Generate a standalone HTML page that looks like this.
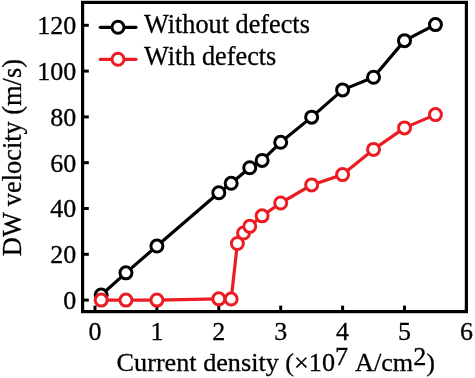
<!DOCTYPE html>
<html><head><meta charset="utf-8"><style>
html,body{margin:0;padding:0;background:#fff;width:475px;height:378px;overflow:hidden}
svg{display:block}
</style></head><body>
<svg width="475" height="378" viewBox="0 0 475 378">
<rect width="475" height="378" fill="#fff"/>
<line x1="95.00" y1="311.6" x2="95.00" y2="305.6" stroke="#000" stroke-width="3"/>
<line x1="156.90" y1="311.6" x2="156.90" y2="305.6" stroke="#000" stroke-width="3"/>
<line x1="218.80" y1="311.6" x2="218.80" y2="305.6" stroke="#000" stroke-width="3"/>
<line x1="280.70" y1="311.6" x2="280.70" y2="305.6" stroke="#000" stroke-width="3"/>
<line x1="342.60" y1="311.6" x2="342.60" y2="305.6" stroke="#000" stroke-width="3"/>
<line x1="404.50" y1="311.6" x2="404.50" y2="305.6" stroke="#000" stroke-width="3"/>
<line x1="466.40" y1="311.6" x2="466.40" y2="305.6" stroke="#000" stroke-width="3"/>
<line x1="82.6" y1="300.10" x2="88.8" y2="300.10" stroke="#000" stroke-width="3"/>
<line x1="82.6" y1="254.30" x2="88.8" y2="254.30" stroke="#000" stroke-width="3"/>
<line x1="82.6" y1="208.50" x2="88.8" y2="208.50" stroke="#000" stroke-width="3"/>
<line x1="82.6" y1="162.70" x2="88.8" y2="162.70" stroke="#000" stroke-width="3"/>
<line x1="82.6" y1="116.90" x2="88.8" y2="116.90" stroke="#000" stroke-width="3"/>
<line x1="82.6" y1="71.10" x2="88.8" y2="71.10" stroke="#000" stroke-width="3"/>
<line x1="82.6" y1="25.30" x2="88.8" y2="25.30" stroke="#000" stroke-width="3"/>

<polyline points="101.19,295.06 125.95,272.85 156.90,246.06 218.80,192.70 231.18,183.31 249.75,167.74 262.13,160.41 280.70,142.32 311.65,117.13 342.60,89.88 373.55,77.28 404.50,40.64 435.45,24.61" fill="none" stroke="#000" stroke-width="3.2" stroke-linejoin="round" stroke-linecap="round"/>
<circle cx="101.19" cy="295.06" r="6.0" fill="#fff" stroke="#000" stroke-width="3.0"/>
<circle cx="125.95" cy="272.85" r="6.0" fill="#fff" stroke="#000" stroke-width="3.0"/>
<circle cx="156.90" cy="246.06" r="6.0" fill="#fff" stroke="#000" stroke-width="3.0"/>
<circle cx="218.80" cy="192.70" r="6.0" fill="#fff" stroke="#000" stroke-width="3.0"/>
<circle cx="231.18" cy="183.31" r="6.0" fill="#fff" stroke="#000" stroke-width="3.0"/>
<circle cx="249.75" cy="167.74" r="6.0" fill="#fff" stroke="#000" stroke-width="3.0"/>
<circle cx="262.13" cy="160.41" r="6.0" fill="#fff" stroke="#000" stroke-width="3.0"/>
<circle cx="280.70" cy="142.32" r="6.0" fill="#fff" stroke="#000" stroke-width="3.0"/>
<circle cx="311.65" cy="117.13" r="6.0" fill="#fff" stroke="#000" stroke-width="3.0"/>
<circle cx="342.60" cy="89.88" r="6.0" fill="#fff" stroke="#000" stroke-width="3.0"/>
<circle cx="373.55" cy="77.28" r="6.0" fill="#fff" stroke="#000" stroke-width="3.0"/>
<circle cx="404.50" cy="40.64" r="6.0" fill="#fff" stroke="#000" stroke-width="3.0"/>
<circle cx="435.45" cy="24.61" r="6.0" fill="#fff" stroke="#000" stroke-width="3.0"/>

<polyline points="101.19,300.10 125.95,300.10 156.90,300.10 218.80,298.84 231.18,299.07 237.37,243.54 243.56,233.00 249.75,226.36 262.13,215.83 280.70,203.00 311.65,184.91 342.60,174.61 373.55,149.42 404.50,127.89 435.45,114.61" fill="none" stroke="#ec1c24" stroke-width="3.2" stroke-linejoin="round" stroke-linecap="round"/>
<circle cx="101.19" cy="300.10" r="6.0" fill="#fff" stroke="#ec1c24" stroke-width="3.0"/>
<circle cx="125.95" cy="300.10" r="6.0" fill="#fff" stroke="#ec1c24" stroke-width="3.0"/>
<circle cx="156.90" cy="300.10" r="6.0" fill="#fff" stroke="#ec1c24" stroke-width="3.0"/>
<circle cx="218.80" cy="298.84" r="6.0" fill="#fff" stroke="#ec1c24" stroke-width="3.0"/>
<circle cx="231.18" cy="299.07" r="6.0" fill="#fff" stroke="#ec1c24" stroke-width="3.0"/>
<circle cx="237.37" cy="243.54" r="6.0" fill="#fff" stroke="#ec1c24" stroke-width="3.0"/>
<circle cx="243.56" cy="233.00" r="6.0" fill="#fff" stroke="#ec1c24" stroke-width="3.0"/>
<circle cx="249.75" cy="226.36" r="6.0" fill="#fff" stroke="#ec1c24" stroke-width="3.0"/>
<circle cx="262.13" cy="215.83" r="6.0" fill="#fff" stroke="#ec1c24" stroke-width="3.0"/>
<circle cx="280.70" cy="203.00" r="6.0" fill="#fff" stroke="#ec1c24" stroke-width="3.0"/>
<circle cx="311.65" cy="184.91" r="6.0" fill="#fff" stroke="#ec1c24" stroke-width="3.0"/>
<circle cx="342.60" cy="174.61" r="6.0" fill="#fff" stroke="#ec1c24" stroke-width="3.0"/>
<circle cx="373.55" cy="149.42" r="6.0" fill="#fff" stroke="#ec1c24" stroke-width="3.0"/>
<circle cx="404.50" cy="127.89" r="6.0" fill="#fff" stroke="#ec1c24" stroke-width="3.0"/>
<circle cx="435.45" cy="114.61" r="6.0" fill="#fff" stroke="#ec1c24" stroke-width="3.0"/>

<rect x="82.6" y="2.4" width="383.79999999999995" height="309.20000000000005" fill="none" stroke="#000" stroke-width="3.2"/>
<line x1="100.3" y1="27.3" x2="136" y2="27.3" stroke="#000" stroke-width="3.2" stroke-linecap="round"/>
<circle cx="118" cy="27.3" r="6.0" fill="#fff" stroke="#000" stroke-width="3.0"/>
<line x1="100.3" y1="59.3" x2="136" y2="59.3" stroke="#ec1c24" stroke-width="3.2" stroke-linecap="round"/>
<circle cx="118" cy="59.3" r="6.0" fill="#fff" stroke="#ec1c24" stroke-width="3.0"/>
<text x="144" y="33.0" font-family="Liberation Serif, Times New Roman, serif" font-size="26.25" fill="#000" stroke="#000" stroke-width="0.3">Without defects</text>
<text x="144" y="64.8" font-family="Liberation Serif, Times New Roman, serif" font-size="26.25" fill="#000" stroke="#000" stroke-width="0.3">With defects</text>
<text x="76.2" y="308.90" text-anchor="end" font-family="Liberation Serif, Times New Roman, serif" font-size="26" fill="#000" stroke="#000" stroke-width="0.3">0</text>
<text x="76.2" y="263.10" text-anchor="end" font-family="Liberation Serif, Times New Roman, serif" font-size="26" fill="#000" stroke="#000" stroke-width="0.3">20</text>
<text x="76.2" y="217.30" text-anchor="end" font-family="Liberation Serif, Times New Roman, serif" font-size="26" fill="#000" stroke="#000" stroke-width="0.3">40</text>
<text x="76.2" y="171.50" text-anchor="end" font-family="Liberation Serif, Times New Roman, serif" font-size="26" fill="#000" stroke="#000" stroke-width="0.3">60</text>
<text x="76.2" y="125.70" text-anchor="end" font-family="Liberation Serif, Times New Roman, serif" font-size="26" fill="#000" stroke="#000" stroke-width="0.3">80</text>
<text x="76.2" y="79.90" text-anchor="end" font-family="Liberation Serif, Times New Roman, serif" font-size="26" fill="#000" stroke="#000" stroke-width="0.3">100</text>
<text x="76.2" y="34.10" text-anchor="end" font-family="Liberation Serif, Times New Roman, serif" font-size="26" fill="#000" stroke="#000" stroke-width="0.3">120</text>
<text x="95.00" y="339.5" text-anchor="middle" font-family="Liberation Serif, Times New Roman, serif" font-size="26" fill="#000" stroke="#000" stroke-width="0.3">0</text>
<text x="156.90" y="339.5" text-anchor="middle" font-family="Liberation Serif, Times New Roman, serif" font-size="26" fill="#000" stroke="#000" stroke-width="0.3">1</text>
<text x="218.80" y="339.5" text-anchor="middle" font-family="Liberation Serif, Times New Roman, serif" font-size="26" fill="#000" stroke="#000" stroke-width="0.3">2</text>
<text x="280.70" y="339.5" text-anchor="middle" font-family="Liberation Serif, Times New Roman, serif" font-size="26" fill="#000" stroke="#000" stroke-width="0.3">3</text>
<text x="342.60" y="339.5" text-anchor="middle" font-family="Liberation Serif, Times New Roman, serif" font-size="26" fill="#000" stroke="#000" stroke-width="0.3">4</text>
<text x="404.50" y="339.5" text-anchor="middle" font-family="Liberation Serif, Times New Roman, serif" font-size="26" fill="#000" stroke="#000" stroke-width="0.3">5</text>
<text x="466.40" y="339.5" text-anchor="middle" font-family="Liberation Serif, Times New Roman, serif" font-size="26" fill="#000" stroke="#000" stroke-width="0.3">6</text>
<text x="116.6" y="371" font-family="Liberation Serif, Times New Roman, serif" font-size="26.2" fill="#000" stroke="#000" stroke-width="0.3">Current density (×10<tspan dy="-6.5">7</tspan><tspan dy="6.5" dx="1.8"> A/cm</tspan><tspan dy="-6.5">2</tspan><tspan dy="6.5">)</tspan></text>
<text transform="translate(20.7,157.6) rotate(-90)" text-anchor="middle" font-family="Liberation Serif, Times New Roman, serif" font-size="26.35" fill="#000" stroke="#000" stroke-width="0.3">DW velocity (m/s)</text>
</svg>
</body></html>
